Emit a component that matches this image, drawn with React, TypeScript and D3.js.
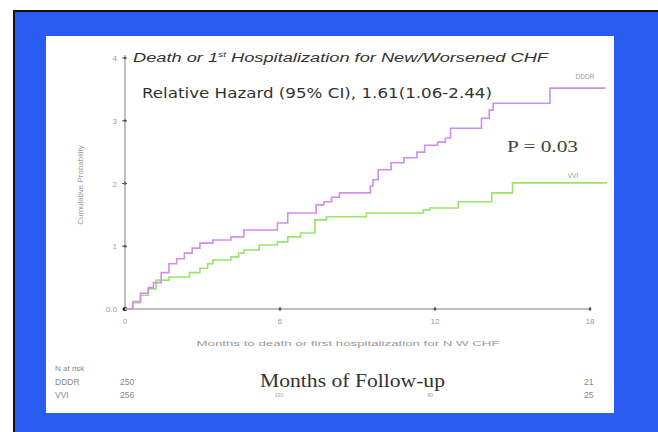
import React from "react";
import * as d3 from "d3";

const dddrMonths = [0, 0.3, 0.6, 0.9, 1.1, 1.4, 1.7, 2.0, 2.3, 2.6, 2.9, 3.4, 4.1, 4.6, 5.9, 6.3, 7.4, 7.7, 8.0, 8.3, 9.5, 9.6, 9.8, 10.3, 10.8, 11.3, 11.6, 12.1, 12.4, 12.6, 13.8, 14.1, 14.25, 16.45, 18.6];
const dddrValues = [0, 0.012, 0.025, 0.034, 0.042, 0.058, 0.072, 0.08, 0.089, 0.097, 0.105, 0.11, 0.115, 0.126, 0.137, 0.153, 0.166, 0.171, 0.178, 0.185, 0.196, 0.206, 0.222, 0.233, 0.241, 0.25, 0.261, 0.266, 0.272, 0.288, 0.304, 0.317, 0.328, 0.352, 0.352];

const vviMonths = [0, 0.3, 0.6, 0.9, 1.2, 1.7, 2.5, 2.9, 3.2, 3.4, 4.1, 4.4, 4.6, 5.2, 5.9, 6.3, 6.8, 7.35, 7.8, 9.35, 11.55, 11.8, 12.9, 14.2, 15.0, 18.65];
const vviValues = [0, 0.01, 0.022, 0.032, 0.046, 0.051, 0.058, 0.065, 0.072, 0.078, 0.083, 0.089, 0.094, 0.102, 0.107, 0.115, 0.121, 0.142, 0.147, 0.153, 0.158, 0.161, 0.171, 0.185, 0.201, 0.201];

const xTicks = [0, 6, 12, 18];
const yTicks = [0, 0.1, 0.2, 0.3, 0.4];
const yTickLabels = ["0.0", "1", "2", "3", "4"];

const atRiskGroups = ["DDDR", "VVI"];
const atRiskStart = ["250", "256"];
const atRiskEnd = ["21", "25"];

export default function App() {
  const x = d3.scaleLinear().domain([0, 18]).range([125, 590]);
  const y = d3.scaleLinear().domain([0, 0.4]).range([309, 58]);
  const line = d3
    .line<[number, number]>()
    .x((d) => x(d[0]))
    .y((d) => y(d[1]))
    .curve(d3.curveStepAfter);
  const dddr = dddrMonths.map((m, i) => [m, dddrValues[i]] as [number, number]);
  const vvi = vviMonths.map((m, i) => [m, vviValues[i]] as [number, number]);
  const gray = "#777";
  return (
    <div style={{ position: "fixed", left: 0, top: 0, width: 658, height: 432 }}>
      <svg width={658} height={432} style={{ display: "block" }}>
        <rect x={0} y={0} width={658} height={432} fill="#fff" />
        <rect x={13} y={10} width={645} height={422} fill="#111" />
        <rect x={15} y={12} width={643} height={420} fill="#2b5cf2" />
        <rect x={46} y={36} width={568} height={377} fill="#fff" />

        {/* axes */}
        <line x1={x(0)} x2={x(0)} y1={y(0)} y2={55} stroke="#aaa" strokeWidth={1.5} />
        <line x1={x(0)} x2={x(18)} y1={y(0)} y2={y(0)} stroke="#aaa" strokeWidth={1.5} />
        {yTicks.map((t, i) => (
          <g key={"yt" + i}>
            <line x1={x(0) - 3} x2={x(0) + 2} y1={y(t)} y2={y(t)} stroke="#666" strokeWidth={1} />
            <circle cx={x(0)} cy={y(t)} r={1.3} fill="#555" />
            <text
              x={x(0) - 8}
              y={y(t) + 3}
              textAnchor="end"
              fontFamily="Liberation Sans, Arial, sans-serif"
              fontSize={8}
              fill="#999"
            >
              {yTickLabels[i]}
            </text>
          </g>
        ))}
        <circle cx={x(0)} cy={y(0)} r={2.2} fill="#222" />
        {xTicks.map((t, i) => (
          <g key={"xt" + i}>
            <line x1={x(t)} x2={x(t)} y1={y(0) - 2} y2={y(0) + 2} stroke="#666" strokeWidth={1} />
            {t > 0 && <circle cx={x(t)} cy={y(0)} r={1.4} fill="#555" />}
            <text
              x={x(t)}
              y={y(0) + 15}
              textAnchor="middle"
              fontFamily="Liberation Sans, Arial, sans-serif"
              fontSize={8}
              fill="#999"
            >
              {t}
            </text>
          </g>
        ))}

        <text
          x={348}
          y={346}
          textAnchor="middle"
          fontFamily="Liberation Sans, Arial, sans-serif"
          fontSize={8}
          fill="#999"
          textLength={303}
          lengthAdjust="spacingAndGlyphs"
        >
          Months to death or first hospitalization for N W CHF
        </text>
        <text
          transform="translate(83,185) rotate(-90)"
          textAnchor="middle"
          fontFamily="Liberation Sans, Arial, sans-serif"
          fontSize={8}
          fill="#999"
        >
          Cumulative Probability
        </text>

        {/* curves */}
        <path d={line(vvi) || ""} fill="none" stroke="#9be36a" strokeWidth={1.6} />
        <path d={line(dddr) || ""} fill="none" stroke="#cf8ef0" strokeWidth={1.6} />

        <text x={585} y={79} textAnchor="middle" fontFamily="Liberation Sans, Arial, sans-serif" fontSize={6.5} fill="#999">
          DDDR
        </text>
        <text x={573} y={178} textAnchor="middle" fontFamily="Liberation Sans, Arial, sans-serif" fontSize={6.5} fill="#999">
          VVI
        </text>

        {/* title */}
        <text
          x={133}
          y={62}
          fontFamily="Liberation Sans, Arial, sans-serif"
          fontStyle="italic"
          fontSize={12.5}
          fill="#333"
          textLength={415}
          lengthAdjust="spacingAndGlyphs"
        >
          Death or 1<tspan fontSize={7} dy={-5}>st</tspan>
          <tspan dy={5}> Hospitalization for New/Worsened  CHF</tspan>
        </text>
        <text
          x={142}
          y={98}
          fontFamily="DejaVu Sans, sans-serif"
          fontSize={14}
          fill="#333"
          textLength={350}
          lengthAdjust="spacingAndGlyphs"
        >
          Relative Hazard (95% CI), 1.61(1.06-2.44)
        </text>
        <text x={507} y={152} fontFamily="Liberation Serif, Times New Roman, serif" fontSize={16} fill="#444" textLength={71} lengthAdjust="spacingAndGlyphs">
          P = 0.03
        </text>

        {/* at risk */}
        <text x={55} y={371} fontFamily="Liberation Sans, Arial, sans-serif" fontSize={8} fill="#888">
          N at risk
        </text>
        {atRiskGroups.map((g, i) => (
          <g key={g}>
            <text x={55} y={385 + i * 13} fontFamily="Liberation Sans, Arial, sans-serif" fontSize={8.5} fill="#888">
              {g}
            </text>
            <text x={120} y={385 + i * 13} fontFamily="Liberation Sans, Arial, sans-serif" fontSize={8.5} fill="#888">
              {atRiskStart[i]}
            </text>
            <text x={584} y={385 + i * 13} fontFamily="Liberation Sans, Arial, sans-serif" fontSize={8.5} fill="#888">
              {atRiskEnd[i]}
            </text>
          </g>
        ))}
        <text
          x={260}
          y={387}
          fontFamily="Liberation Serif, Times New Roman, serif"
          fontSize={19}
          fill="#333"
          textLength={185}
          lengthAdjust="spacingAndGlyphs"
        >
          Months of Follow-up
        </text>
        <text x={279} y={397} textAnchor="middle" fontFamily="Liberation Sans, Arial, sans-serif" fontSize={5} fill="#999">
          100
        </text>
        <text x={430} y={397} textAnchor="middle" fontFamily="Liberation Sans, Arial, sans-serif" fontSize={5} fill="#999">
          90
        </text>
      </svg>
    </div>
  );
}
